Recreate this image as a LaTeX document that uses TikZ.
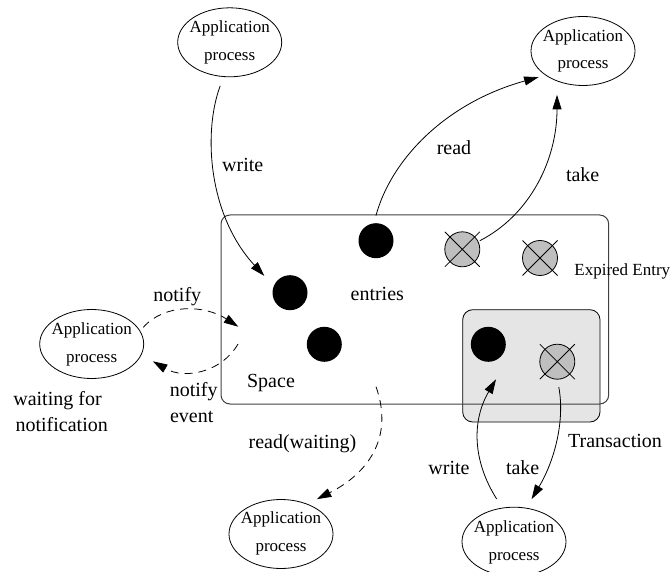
\documentclass[tikz,border=0pt]{standalone}
\usepackage{fontspec}
\setmainfont{Liberation Serif}
\usetikzlibrary{arrows.meta,shapes.geometric,shapes.misc}
\tikzset{
  apbox/.style={draw,ellipse,line width=0.8pt,minimum width=104pt,minimum height=69pt,inner sep=0pt,outer sep=0pt},
  aptext/.style={font=\fontsize{17}{27.5}\selectfont,align=center,inner sep=0pt},
  lbl/.style={font=\fontsize{20}{25.5}\selectfont,inner sep=0pt,anchor=base},
  entryb/.style={circle,fill=black,minimum size=35pt,inner sep=0pt,outer sep=0pt},
  entryg/.style={circle,draw,fill=black!25,line width=0.8pt,minimum size=35pt,inner sep=0pt,outer sep=0pt},
  xmark/.style={cross out,draw,line width=0.8pt,minimum size=35pt,inner sep=0pt,outer sep=0pt},
  flow/.style={line width=0.8pt,-{Stealth[length=14.5pt,width=9pt,inset=0pt]}},
  dflow/.style={flow,dash pattern=on 8pt off 6pt},
  spacebox/.style={draw=black!75,line width=1pt,rounded corners=9pt},
  txbox/.style={draw,fill=black!10,line width=0.8pt,rounded corners=10pt}
}
\begin{document}
\begin{tikzpicture}[x=1pt,y=-1pt]
\useasboundingbox (0,0) rectangle (670,572);
\clip (0,0) rectangle (670,572);
% boxes
\path[txbox] (462.7,309.7) rectangle (600,422);
\path[spacebox] (221,215) rectangle (608.7,404);
% processes
\node[apbox] (ap1) at (229.7,42.3) {};
\node[apbox] (ap2) at (583,51) {};
\node[apbox] (ap3) at (91.7,344) {};
\node[apbox] (ap4) at (281,534) {};
\node[apbox] (ap5) at (514,541.7) {};
\node[aptext] (t1) at (229.7,42.5) {Application\\process};
\node[aptext] (t2) at (583,51) {Application\\process};
\node[aptext] (t3) at (91.7,344.5) {Application\\process};
\node[aptext] (t4) at (281,533.5) {Application\\process};
\node[aptext] (t5) at (514,542.5) {Application\\process};
% entries
\node[entryb] (e1) at (376,240.7) {};
\node[entryb] (e2) at (290,292.7) {};
\node[entryb] (e3) at (324.3,344.3) {};
\node[entryb] (e4) at (488.3,344.3) {};
\node[entryg] (g1) at (462.3,249.3) {};
\node[entryg] (g2) at (540,258) {};
\node[entryg] (g3) at (557.3,361.7) {};
\node[xmark] (x1) at (g1) {};
\node[xmark] (x2) at (g2) {};
\node[xmark] (x3) at (g3) {};
% free ends
\coordinate (nfy) at (238.3,326.7);
\coordinate (nfe) at (238,344);
\coordinate (rws) at (376,386.7);
\coordinate (wtip) at (496,379.3);
% connectors
\draw[flow,shorten <=10pt,shorten >=14pt] (ap1.260.7) .. controls (203,132) and (208,215) .. (e2.158);
\draw[flow,shorten <=8pt,shorten >=7.5pt] (e1.97) .. controls (391,160) and (445,103) .. (ap2.213.3);
\draw[flow,shorten <=2pt,shorten >=14pt] (g1.26) .. controls (530,215) and (557,160) .. (ap2.229.4);
\draw[dflow,shorten <=5pt] (ap3.15.8) .. controls (165,303) and (205,305) .. (nfy);
\draw[dflow,shorten >=13.5pt] (nfe) .. controls (222,372) and (185,380) .. (ap3.-12.6);
\draw[dflow,shorten >=11pt] (rws) .. controls (395,440) and (365,475) .. (ap4.49.2);
\draw[flow,shorten <=10.7pt] (ap5.109) .. controls (472,460) and (472,420) .. (wtip);
\draw[flow,shorten <=8pt,shorten >=10.5pt] (g3.south) .. controls (565,420) and (555,460) .. (ap5.70);
% labels
\node[lbl] (l1) at (242.7,172) {write};
\node[lbl] (l2) at (454,155) {read};
\node[lbl] (l3) at (582.7,181.7) {take};
\node[lbl,font=\fontsize{17}{20}\selectfont] (l4) at (622.3,276) {Expired Entry};
\node[lbl] (l5) at (377.3,300.7) {entries};
\node[lbl] (l6) at (271,388) {Space};
\node[lbl] (l7) at (177.3,301.7) {notify};
\node[lbl] (l8) at (193.7,396.7) {notify};
\node[lbl] (l9) at (191.7,422) {event};
\node[lbl] (l10) at (57.5,405) {waiting for};
\node[lbl] (l11) at (61.7,431) {notification};
\node[lbl] (l12) at (302.5,448) {read(waiting)};
\node[lbl] (l13) at (615,447.7) {Transaction};
\node[lbl] (l14) at (449,474) {write};
\node[lbl] (l15) at (522.7,474) {take};
\end{tikzpicture}
\end{document}
